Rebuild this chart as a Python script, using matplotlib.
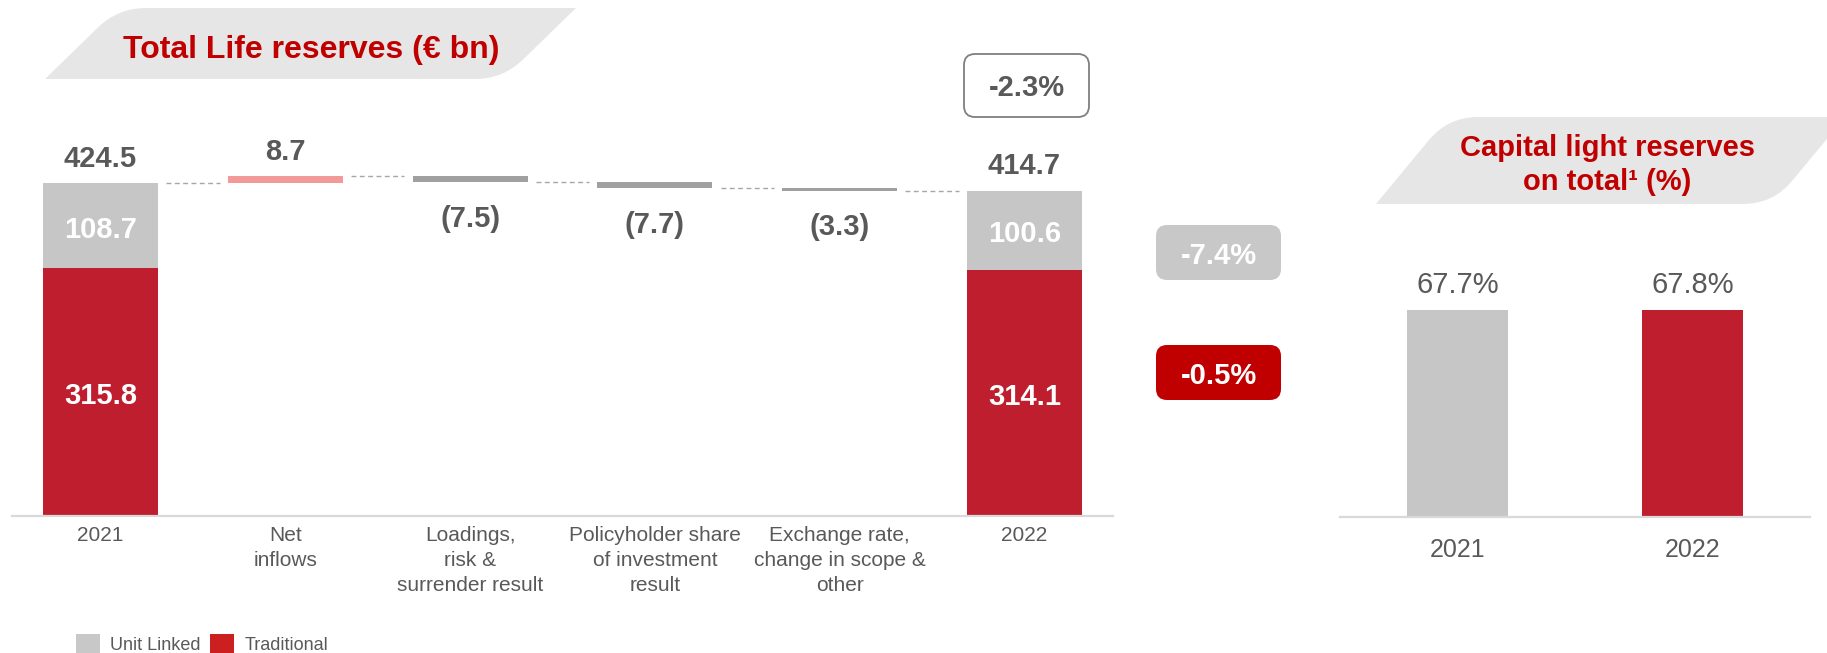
import numpy as np
import matplotlib
matplotlib.use('Agg')
import matplotlib.pyplot as plt
from matplotlib.path import Path
from matplotlib.patches import PathPatch, FancyBboxPatch, Patch

plt.rcParams['font.family'] = ['Liberation Sans', 'DejaVu Sans']

# ---------------- data ----------------
categories = ['2021', 'Net\ninflows', 'Loadings,\nrisk &\nsurrender result',
              'Policyholder share\nof investment\nresult',
              'Exchange rate,\nchange in scope &\nother', '2022']
unit_linked = [108.7, 100.6]
traditional = [315.8, 314.1]
totals = [424.5, 414.7]
changes = [8.7, -7.5, -7.7, -3.3]
change_labels = ['8.7', '(7.5)', '(7.7)', '(3.3)']
total_change = '-2.3%'
ul_change = '-7.4%'
trad_change = '-0.5%'
left_title = 'Total Life reserves (€ bn)'
right_title = 'Capital light reserves\non total¹ (%)'
cl_years = ['2021', '2022']
cl_share = [67.7, 67.8]
legend_labels = ['Unit Linked', 'Traditional']

# ---------------- style ----------------
RED = '#BE1E2D'
GRAY = '#C6C6C6'
PINK = '#F4999A'
DGRAY = '#A0A0A0'
TXT = '#595959'
TITLE_RED = '#C00000'
BANNER = '#E6E6E6'
AXLINE = '#D9D9D9'

W, H = 1827, 653
fig = plt.figure(figsize=(W / 100, H / 100), dpi=100)

# overlay in pixel coordinates for decorations
ov = fig.add_axes([0, 0, 1, 1])
ov.set_xlim(0, W)
ov.set_ylim(H, 0)
ov.axis('off')
ov.set_zorder(0)


def banner(pts, rounded, r):
    verts, codes = [], []
    n = len(pts)
    for k in range(n):
        p = np.array(pts[k], float)
        if k in rounded:
            prv = np.array(pts[k - 1], float)
            nxt = np.array(pts[(k + 1) % n], float)
            a = p + (prv - p) / np.linalg.norm(prv - p) * r
            b = p + (nxt - p) / np.linalg.norm(nxt - p) * r
            verts += [a, p, b]
            codes += [Path.LINETO, Path.CURVE3, Path.CURVE3]
        else:
            verts.append(p)
            codes.append(Path.LINETO)
    codes[0] = Path.MOVETO
    verts.append(verts[0])
    codes.append(Path.CLOSEPOLY)
    ov.add_patch(PathPatch(Path(verts, codes), facecolor=BANNER, edgecolor='none'))


banner([(45, 79), (118, 8), (576, 8), (503, 79)], [1, 3], 28)
ov.text(311, 50, left_title, ha='center', va='center', fontsize=23,
        fontweight='bold', color=TITLE_RED)

banner([(1376, 204), (1448, 117), (1845, 117), (1773, 204)], [1, 3], 30)
ov.text(1607, 165, right_title, ha='center', va='center', fontsize=21,
        fontweight='bold', color=TITLE_RED, linespacing=1.3,
        multialignment='center')


def pbox(x, y, w, h, text, fc, ec, tc, lw=0):
    ov.add_patch(FancyBboxPatch((x, y), w, h,
                                boxstyle='round,pad=0,rounding_size=11',
                                facecolor=fc, edgecolor=ec, linewidth=lw))
    ov.text(x + w / 2, y + h / 2 + 3, text, ha='center', va='center',
            fontsize=21, fontweight='bold', color=tc)


pbox(964, 54, 125, 63, total_change, 'white', '#7F7F7F', TXT, lw=1.3)
pbox(1156, 225, 125, 55, ul_change, '#C8C8C8', 'none', 'white')
pbox(1156, 345, 125, 55, trad_change, '#C00000', 'none', 'white')

# ---------------- left chart ----------------
ax = fig.add_axes([12 / W, (H - 516) / H, 1101 / W, 510 / H])
ax.set_zorder(1)
ax.patch.set_alpha(0)
bw = 0.622
x = np.arange(len(categories))
ends = [0, len(categories) - 1]

ax.bar(ends, traditional, bw, color=RED, zorder=2)
ax.bar(ends, unit_linked, bw, bottom=traditional, color=GRAY, zorder=2)

levels = [totals[0]]
for i, d in enumerate(changes):
    start = levels[-1]
    ax.bar(i + 1, d, bw, bottom=start, color=PINK if d > 0 else DGRAY, zorder=2)
    levels.append(start + d)

inset = 0.045
for i, lv in enumerate(levels):
    ax.plot([i + bw / 2 + inset, i + 1 - bw / 2 - inset], [lv, lv],
            color='#A6A6A6', lw=1.0, linestyle=(0, (3.5, 2.5)), zorder=1)

# labels
for xi, tot in zip(ends, totals):
    ax.annotate(f'{tot:.1f}', (xi, tot), xytext=(0, 17.5), textcoords='offset points',
                ha='center', va='center', fontsize=21, fontweight='bold', color=TXT)
for xi, tr, ul in zip(ends, traditional, unit_linked):
    ax.annotate(f'{tr:.1f}', (xi, tr / 2), xytext=(0, -3), textcoords='offset points',
                ha='center', va='center', fontsize=21,
                fontweight='bold', color='white', zorder=3)
    ax.annotate(f'{ul:.1f}', (xi, tr + ul / 2), xytext=(0, -3), textcoords='offset points',
                ha='center', va='center', fontsize=21,
                fontweight='bold', color='white', zorder=3)
for i, (d, lab) in enumerate(zip(changes, change_labels)):
    if d > 0:
        ax.annotate(lab, (i + 1, levels[i + 1]), xytext=(0, 17.5), textcoords='offset points',
                    ha='center', va='center', fontsize=21, fontweight='bold', color=TXT)
    else:
        ax.annotate(lab, (i + 1, levels[i + 1]), xytext=(0, -26.5), textcoords='offset points',
                    ha='center', va='center', fontsize=21, fontweight='bold', color=TXT)

ax.set_xlim(-0.479, 5.479)
ax.set_ylim(0, 650)
ax.set_xticks(x)
ax.set_xticklabels(categories, fontsize=15, color=TXT, linespacing=1.4)
ax.tick_params(axis='x', length=0, pad=7)
ax.set_yticks([])
for s in ['top', 'right', 'left']:
    ax.spines[s].set_visible(False)
ax.spines['bottom'].set_color(AXLINE)
ax.spines['bottom'].set_linewidth(1.6)

# ---------------- right chart ----------------
ax2 = fig.add_axes([1340 / W, (H - 517) / H, 470 / W, 305.8 / H])
ax2.set_zorder(1)
ax2.patch.set_alpha(0)
ax2.bar(np.arange(len(cl_years)), cl_share, 0.43, color=[GRAY, RED], zorder=2)
for xi, v in enumerate(cl_share):
    ax2.annotate(f'{v:.1f}%', (xi, v), xytext=(0, 18), textcoords='offset points',
                 ha='center', va='center', fontsize=21, color=TXT)
ax2.set_xlim(-0.5, 1.5)
ax2.set_ylim(0, 100)
ax2.set_xticks(np.arange(len(cl_years)))
ax2.set_xticklabels(cl_years, fontsize=18, color=TXT)
ax2.tick_params(axis='x', length=0, pad=15)
ax2.set_yticks([])
for s in ['top', 'right', 'left']:
    ax2.spines[s].set_visible(False)
ax2.spines['bottom'].set_color(AXLINE)
ax2.spines['bottom'].set_linewidth(1.6)

# ---------------- legend ----------------
handles = [Patch(facecolor='#C8C8C8', edgecolor='none'),
           Patch(facecolor='#CC2020', edgecolor='none')]
fig.legend(handles, legend_labels, loc='center left',
           bbox_to_anchor=(76 / W, (H - 644) / H), ncol=2, frameon=False,
           fontsize=13, labelcolor=TXT, handlelength=1.33, handleheight=1.33,
           handletextpad=0.55, columnspacing=0.55, borderpad=0, borderaxespad=0)

fig.savefig('out.png', dpi=100)
